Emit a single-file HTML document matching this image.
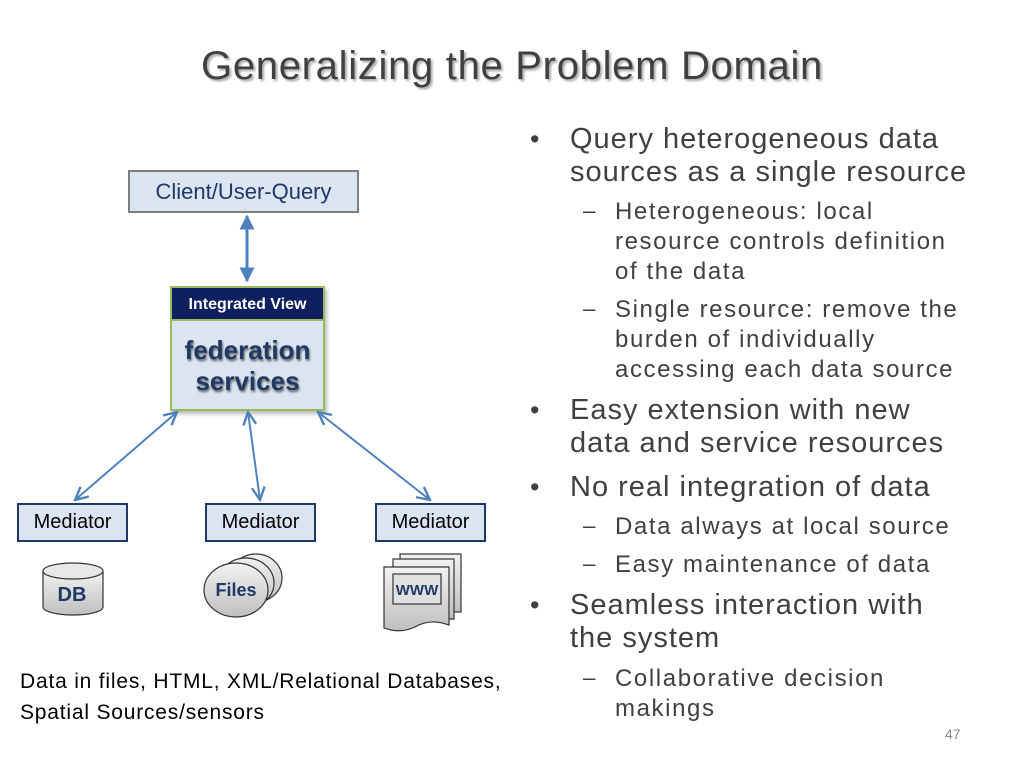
<!DOCTYPE html>
<html><head><meta charset="utf-8"><style>
body{margin:0;width:1024px;height:768px;background:#fff;position:relative;overflow:hidden;font-family:"Liberation Sans",sans-serif;}
.a{position:absolute;white-space:nowrap;color:#404040;}
.t{left:0;width:1024px;text-align:center;top:44px;font-size:40px;letter-spacing:0.7px;text-shadow:2px 2px 2px #aaa;}
.b{font-size:29px;left:570px;line-height:33px;letter-spacing:1px;}
.bd{font-size:27px;left:530px;}
.s{font-size:24px;left:615px;line-height:30px;letter-spacing:1.6px;}
.sd{font-size:22.5px;left:583px;}
.box{position:absolute;box-sizing:border-box;text-align:center;font-family:"Liberation Sans",sans-serif;}
.med{top:503px;height:39px;width:111px;background:#dbe5f1;border:2px solid #1f3864;font-size:20px;line-height:35px;color:#000;}
</style></head><body>
<div class="a t">Generalizing the Problem Domain</div>

<div class="a bd" style="top:124px">•</div>
<div class="a b" style="top:123px">Query heterogeneous data<br>sources as a single resource</div>
<div class="a sd" style="top:198px">–</div>
<div class="a s" style="top:197px">Heterogeneous: local<br>resource controls definition<br>of the data</div>
<div class="a sd" style="top:296px">–</div>
<div class="a s" style="top:295px">Single resource: remove the<br>burden of individually<br>accessing each data source</div>
<div class="a bd" style="top:395px">•</div>
<div class="a b" style="top:394px">Easy extension with new<br>data and service resources</div>
<div class="a bd" style="top:472px">•</div>
<div class="a b" style="top:471px">No real integration of data</div>
<div class="a sd" style="top:513px">–</div>
<div class="a s" style="top:512px">Data always at local source</div>
<div class="a sd" style="top:551px">–</div>
<div class="a s" style="top:550px">Easy maintenance of data</div>
<div class="a bd" style="top:590px">•</div>
<div class="a b" style="top:589px">Seamless interaction with<br>the system</div>
<div class="a sd" style="top:665px">–</div>
<div class="a s" style="top:664px">Collaborative decision<br>makings</div>
<div class="a" style="left:945px;top:726px;font-size:14px;color:#888">47</div>

<div class="a" style="left:20px;top:666px;font-size:21px;letter-spacing:0.8px;line-height:31px;color:#000">Data in files, HTML, XML/Relational Databases,<br>Spatial Sources/sensors</div>

<div class="box" style="left:128px;top:170px;width:231px;height:43px;background:#dbe5f1;border:2px solid #7f7f7f;font-size:22px;line-height:39px;color:#1f3864">Client/User-Query</div>

<div class="box" style="left:170px;top:286px;width:155px;height:125px;background:#dbe5f1;border:2px solid #9bbb59;box-shadow:2px 3px 4px #bbb"></div>
<div class="box" style="left:172px;top:288px;width:151px;height:33px;background:#0f2060;color:#fff;font-weight:bold;font-size:16px;line-height:33px;border-bottom:2px solid #9bbb59">Integrated View</div>
<div class="box" style="left:170px;top:335px;width:155px;font-weight:bold;font-size:26px;line-height:31px;color:#1f3864;text-shadow:1px 2px 2px #666">federation<br>services</div>

<div class="box med" style="left:17px">Mediator</div>
<div class="box med" style="left:205px">Mediator</div>
<div class="box med" style="left:375px">Mediator</div>

<svg width="1024" height="768" style="position:absolute;left:0;top:0">
<defs><marker id="m" viewBox="0 0 10 10" refX="9" refY="5" markerWidth="8" markerHeight="8" orient="auto-start-reverse"><path d="M1,1 L9,5 L1,9" fill="none" stroke="#4f81bd" stroke-width="1.5"/></marker>
<marker id="f" viewBox="0 0 10 10" refX="9" refY="5" markerWidth="5" markerHeight="5" orient="auto-start-reverse"><path d="M0,0 L10,5 L0,10z" fill="#4f81bd"/></marker>
<linearGradient id="g" x1="0" y1="0" x2="0" y2="1"><stop offset="0" stop-color="#f2f2f2"/><stop offset="1" stop-color="#bfbfbf"/></linearGradient></defs>
<line x1="247" y1="216" x2="247" y2="281" stroke="#4f81bd" stroke-width="3" marker-start="url(#f)" marker-end="url(#f)"/>
<g stroke="#4f81bd" stroke-width="2" fill="none">
<line x1="177" y1="412" x2="75" y2="500" marker-start="url(#m)" marker-end="url(#m)"/>
<line x1="248" y1="412" x2="260" y2="500" marker-start="url(#m)" marker-end="url(#m)"/>
<line x1="318" y1="412" x2="430" y2="500" marker-start="url(#m)" marker-end="url(#m)"/>
</g>
<g stroke="#333" stroke-width="1.2">
<path d="M43,571 L43,607 A30,8 0 0 0 103,607 L103,571" fill="url(#g)"/>
<ellipse cx="73" cy="571" rx="30" ry="8" fill="#e8e8e8"/>
</g>
<text x="72" y="601" font-size="20" font-weight="bold" fill="#1f3864" text-anchor="middle" font-family="Liberation Sans">DB</text>
<g stroke="#333" stroke-width="1.2" fill="url(#g)">
<ellipse cx="256" cy="578" rx="26" ry="24"/>
<ellipse cx="246" cy="583" rx="28" ry="25"/>
<ellipse cx="236" cy="590" rx="32" ry="27"/>
</g>
<text x="236" y="596" font-size="18" font-weight="bold" fill="#1f3864" text-anchor="middle" font-family="Liberation Sans">Files</text>
<g stroke="#333" stroke-width="1.2" fill="url(#g)">
<rect x="400" y="554" width="61" height="58"/>
<rect x="393" y="559" width="61" height="60"/>
<path d="M384,567 L449,567 L449,625 Q430,618 415,627 Q400,634 384,628 Z"/>
<rect x="393" y="574" width="48" height="30" fill="#e0e0e0"/>
</g>
<text x="417" y="595" font-size="15" font-weight="bold" fill="#1f3864" text-anchor="middle" font-family="Liberation Sans">WWW</text>
</svg>
</body></html>
